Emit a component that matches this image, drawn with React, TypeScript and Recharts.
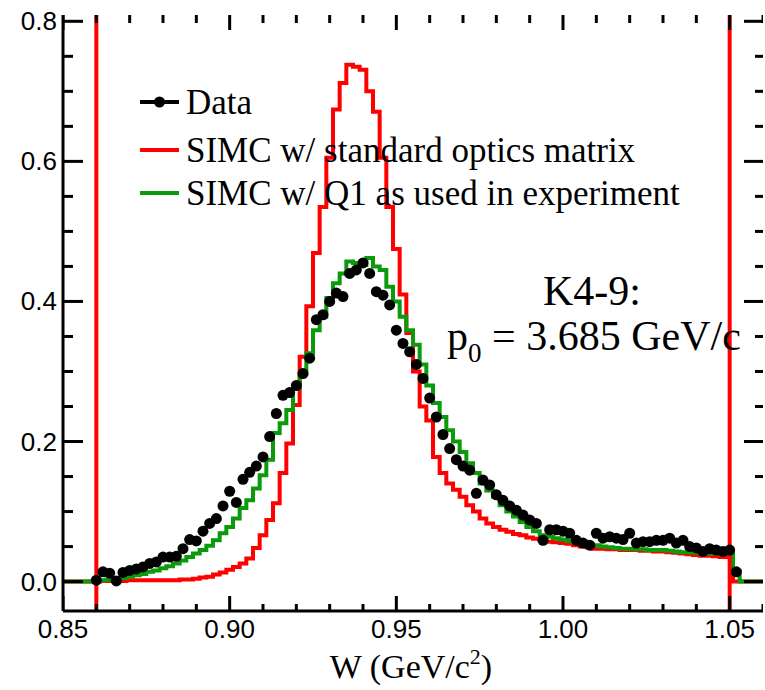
import { ComposedChart, Line, Scatter, XAxis, YAxis, ReferenceLine } from 'recharts';

// histogram bins: centres 0.850 ... 1.060 GeV, 0.002 wide
const HIST_START = 0.85;
const BIN = 0.002;

// SIMC, standard optics matrix
const simcStandard = [
  0, 0, 0, 0, 0, 0, 0.001, 0.001, 0.001, 0.001,
  0.002, 0.002, 0.002, 0.002, 0.002, 0.002, 0.002, 0.002, 0.003, 0.003,
  0.004, 0.006, 0.007, 0.01, 0.013, 0.017, 0.021, 0.026, 0.033, 0.048,
  0.066, 0.088, 0.112, 0.155, 0.197, 0.252, 0.321, 0.393, 0.469, 0.535,
  0.605, 0.674, 0.712, 0.738, 0.735, 0.731, 0.7, 0.671, 0.605, 0.535,
  0.475, 0.41, 0.355, 0.3, 0.25, 0.23, 0.178, 0.155, 0.14, 0.131,
  0.121, 0.109, 0.1, 0.09, 0.083, 0.078, 0.074, 0.071, 0.068, 0.066,
  0.063, 0.061, 0.059, 0.057, 0.056, 0.055, 0.054, 0.052, 0.05, 0.049,
  0.047, 0.047, 0.046, 0.046, 0.045, 0.045, 0.045, 0.044, 0.044, 0.043,
  0.043, 0.042, 0.041, 0.04, 0.039, 0.038, 0.037, 0.037, 0.036, 0.035,
  0.035, 0, 0, 0, 0, 0,
];

// SIMC, Q1 as used in the experiment
const simcQ1 = [
  0, 0, 0, 0, 0, 0, 0.002, 0.003, 0.004, 0.005,
  0.007, 0.009, 0.011, 0.014, 0.016, 0.019, 0.022, 0.026, 0.03, 0.035,
  0.04, 0.045, 0.051, 0.059, 0.069, 0.078, 0.09, 0.105, 0.116, 0.133,
  0.152, 0.174, 0.212, 0.226, 0.245, 0.276, 0.297, 0.326, 0.359, 0.378,
  0.405, 0.426, 0.44, 0.457, 0.455, 0.452, 0.462, 0.45, 0.445, 0.421,
  0.4, 0.378, 0.359, 0.338, 0.31, 0.28, 0.255, 0.235, 0.216, 0.2,
  0.185, 0.169, 0.155, 0.14, 0.13, 0.121, 0.109, 0.1, 0.093, 0.085,
  0.078, 0.072, 0.066, 0.064, 0.062, 0.06, 0.058, 0.056, 0.054, 0.053,
  0.052, 0.05, 0.049, 0.048, 0.047, 0.047, 0.046, 0.046, 0.045, 0.045,
  0.045, 0.044, 0.043, 0.042, 0.042, 0.041, 0.04, 0.04, 0.04, 0.04,
  0.04, 0.015, 0, 0, 0, 0,
];

// measured yields, bin centres 0.860 ... 1.052
const DATA_START = 0.86;
const dataYield = [
  0.002, 0.014, 0.012, 0.001, 0.013, 0.016, 0.018, 0.021, 0.026, 0.028,
  0.035, 0.035, 0.036, 0.047, 0.06, 0.058, 0.072, 0.083, 0.09, 0.108,
  0.129, 0.113, 0.146, 0.156, 0.165, 0.178, 0.207, 0.24, 0.266, 0.27,
  0.28, 0.297, 0.319, 0.374, 0.381, 0.4, 0.412, 0.407, 0.44, 0.445,
  0.455, 0.44, 0.414, 0.409, 0.395, 0.359, 0.34, 0.328, 0.31, 0.29,
  0.262, 0.235, 0.21, 0.19, 0.174, 0.165, 0.159, 0.126, 0.145, 0.138,
  0.124, 0.116, 0.108, 0.102, 0.095, 0.088, 0.083, 0.059, 0.074, 0.074,
  0.072, 0.069, 0.059, 0.055, 0.052, 0.069, 0.062, 0.064, 0.062, 0.06,
  0.069, 0.055, 0.057, 0.057, 0.059, 0.059, 0.062, 0.055, 0.059, 0.05,
  0.048, 0.043, 0.047, 0.045, 0.043, 0.045, 0.014,
];

// every 0.01 gets a small tick, every 0.05 a long labelled one
const xTicks = [
  0.85, 0.86, 0.87, 0.88, 0.89, 0.9, 0.91, 0.92, 0.93, 0.94, 0.95,
  0.96, 0.97, 0.98, 0.99, 1.0, 1.01, 1.02, 1.03, 1.04, 1.05, 1.06,
];
const xLabelTicks = [0.85, 0.9, 0.95, 1.0, 1.05];
const yTicks = [
  0, 0.05, 0.1, 0.15, 0.2, 0.25, 0.3, 0.35, 0.4, 0.45, 0.5, 0.55, 0.6, 0.65, 0.7, 0.75, 0.8,
];
const yLabelTicks = [0, 0.2, 0.4, 0.6, 0.8];

// W cut window
const cutLow = 0.86;
const cutHigh = 1.05;

const X_DOMAIN: [number, number] = [0.85, 1.06];
const Y_DOMAIN: [number, number] = [-0.042, 0.809];

const RED = '#ff0000';
const GREEN = '#0a9a0a';
const SANS = '"Liberation Sans", Arial, Helvetica, sans-serif';
const SERIF = '"Liberation Serif", "Times New Roman", serif';

// histogram outline: one point per left bin edge, drawn with stepAfter
function toSteps(values: number[]) {
  const pts = values.map((v, i) => ({ x: +(HIST_START + i * BIN - BIN / 2).toFixed(4), y: v }));
  pts.push({ x: +(HIST_START + values.length * BIN - BIN / 2).toFixed(4), y: values[values.length - 1] });
  return pts;
}

const stdSteps = toSteps(simcStandard);
const q1Steps = toSteps(simcQ1);
const dataPoints = dataYield.map((v, i) => ({ x: +(DATA_START + i * BIN).toFixed(4), y: v }));

const isMajorX = (v: number) => Math.round(v * 100) % 5 === 0;
const isMajorY = (v: number) => Math.round(v * 20) % 4 === 0;

// tick anchors on the four edges of the frame
const bottomTicks = xTicks.map((t) => ({ x: t, y: Y_DOMAIN[0] }));
const topTicks = xTicks.map((t) => ({ x: t, y: Y_DOMAIN[1] }));
const leftTicks = yTicks.map((t) => ({ x: X_DOMAIN[0], y: t }));
const rightTicks = yTicks.map((t) => ({ x: X_DOMAIN[1], y: t }));

// ticks point into the frame; drawn as thin filled bars
const TW = 3;
const BottomTickMark = ({ cx, cy, payload }: any) => {
  const len = isMajorX(payload.x) ? 15 : 7;
  return <rect x={cx - TW / 2} y={cy - len} width={TW} height={len} fill="#000" />;
};
const TopTickMark = ({ cx, cy, payload }: any) => {
  const len = isMajorX(payload.x) ? 15 : 8;
  return <rect x={cx - TW / 2} y={cy} width={TW} height={len} fill="#000" />;
};
const LeftTickMark = ({ cx, cy, payload }: any) => {
  const len = isMajorY(payload.y) ? 20 : 10;
  return <rect x={cx} y={cy - TW / 2} width={len} height={TW} fill="#000" />;
};
const RightTickMark = ({ cx, cy, payload }: any) => {
  const len = isMajorY(payload.y) ? 19 : 8;
  return <rect x={cx - len} y={cy - TW / 2} width={len} height={TW} fill="#000" />;
};

const BottomLabel = (props: any) => (
  <text x={Number(props.x)} y={Number(props.y) + 27} textAnchor="middle" fontSize={26} fontFamily={SANS} fill="#000">
    {Number(props.payload.value).toFixed(2)}
  </text>
);

const LeftLabel = (props: any) => (
  <text x={Number(props.x) - 6} y={Number(props.y) + 9} textAnchor="end" fontSize={26} fontFamily={SANS} fill="#000">
    {Number(props.payload.value).toFixed(1)}
  </text>
);

const DataDot = ({ cx, cy }: any) => <circle cx={cx} cy={cy} r={5.5} fill="#000" />;

const frame = { stroke: '#000', strokeWidth: 3 };

export default function App() {
  return (
    <div style={{ position: 'absolute', left: 0, top: 0, width: 765, height: 690, background: '#fff' }}>
      <ComposedChart width={765} height={690} margin={{ top: 15, right: 2, bottom: 0, left: 0 }}>
        <XAxis
          dataKey="x"
          type="number"
          domain={X_DOMAIN}
          allowDataOverflow
          ticks={xLabelTicks}
          interval={0}
          height={79}
          tickSize={0}
          tickMargin={0}
          tickLine={false}
          axisLine={frame}
          tick={BottomLabel}
        />
        <XAxis
          xAxisId="top"
          orientation="top"
          dataKey="x"
          type="number"
          domain={X_DOMAIN}
          allowDataOverflow
          height={0}
          tickLine={false}
          axisLine={frame}
          tick={false}
        />
        <YAxis
          type="number"
          domain={Y_DOMAIN}
          allowDataOverflow
          ticks={yLabelTicks}
          interval={0}
          width={63}
          tickSize={0}
          tickMargin={0}
          tickLine={false}
          axisLine={frame}
          tick={LeftLabel}
        />
        <YAxis
          yAxisId="right"
          orientation="right"
          type="number"
          domain={Y_DOMAIN}
          allowDataOverflow
          width={0}
          tickLine={false}
          axisLine={frame}
          tick={false}
        />
        {/* frame ticks first so the curves and cut lines sit on top */}
        <Scatter data={bottomTicks} dataKey="y" fill="#000" shape={BottomTickMark} isAnimationActive={false} />
        <Scatter data={topTicks} dataKey="y" fill="#000" shape={TopTickMark} isAnimationActive={false} />
        <Scatter data={leftTicks} dataKey="y" fill="#000" shape={LeftTickMark} isAnimationActive={false} />
        <Scatter data={rightTicks} dataKey="y" fill="#000" shape={RightTickMark} isAnimationActive={false} />
        <Line
          data={stdSteps}
          dataKey="y"
          type="stepAfter"
          stroke={RED}
          strokeWidth={4}
          dot={false}
          activeDot={false}
          isAnimationActive={false}
        />
        <Line
          data={q1Steps}
          dataKey="y"
          type="stepAfter"
          stroke={GREEN}
          strokeWidth={4}
          dot={false}
          activeDot={false}
          isAnimationActive={false}
        />
        <Scatter data={dataPoints} dataKey="y" fill="#000" shape={<DataDot />} isAnimationActive={false} />
        <ReferenceLine x={cutLow} stroke={RED} strokeWidth={4} />
        <ReferenceLine x={cutHigh} stroke={RED} strokeWidth={4} />
      </ComposedChart>

      <svg width={765} height={690} style={{ position: 'absolute', left: 0, top: 0, pointerEvents: 'none' }}>
        {/* legend */}
        <line x1={140} x2={179} y1={102} y2={102} stroke="#000" strokeWidth={4} />
        <circle cx={159.5} cy={102} r={5.5} fill="#000" />
        <text x={186} y={114} fontSize={35} fontFamily={SERIF} fill="#000">Data</text>
        <line x1={140} x2={179} y1={150} y2={150} stroke={RED} strokeWidth={4} />
        <text x={186} y={162} fontSize={35} fontFamily={SERIF} fill="#000">SIMC w/ standard optics matrix</text>
        <line x1={140} x2={179} y1={193} y2={193} stroke={GREEN} strokeWidth={4} />
        <text x={186} y={205} fontSize={35} fontFamily={SERIF} fill="#000">SIMC w/ Q1 as used in experiment</text>

        {/* kinematic setting */}
        <text x={592} y={305} textAnchor="middle" fontSize={42} fontFamily={SERIF} fill="#000">K4-9:</text>
        <text x={594} y={350} textAnchor="middle" fontSize={42} fontFamily={SERIF} fill="#000">
          p<tspan fontSize={27} dy={12}>0</tspan>
          <tspan dy={-12}> = 3.685 GeV/c</tspan>
        </text>

        {/* x axis title */}
        <text x={411} y={678} textAnchor="middle" fontSize={34} fontFamily={SERIF} fill="#000">
          W (GeV/c<tspan fontSize={22} dy={-14}>2</tspan>
          <tspan dy={14}>)</tspan>
        </text>
      </svg>
    </div>
  );
}
